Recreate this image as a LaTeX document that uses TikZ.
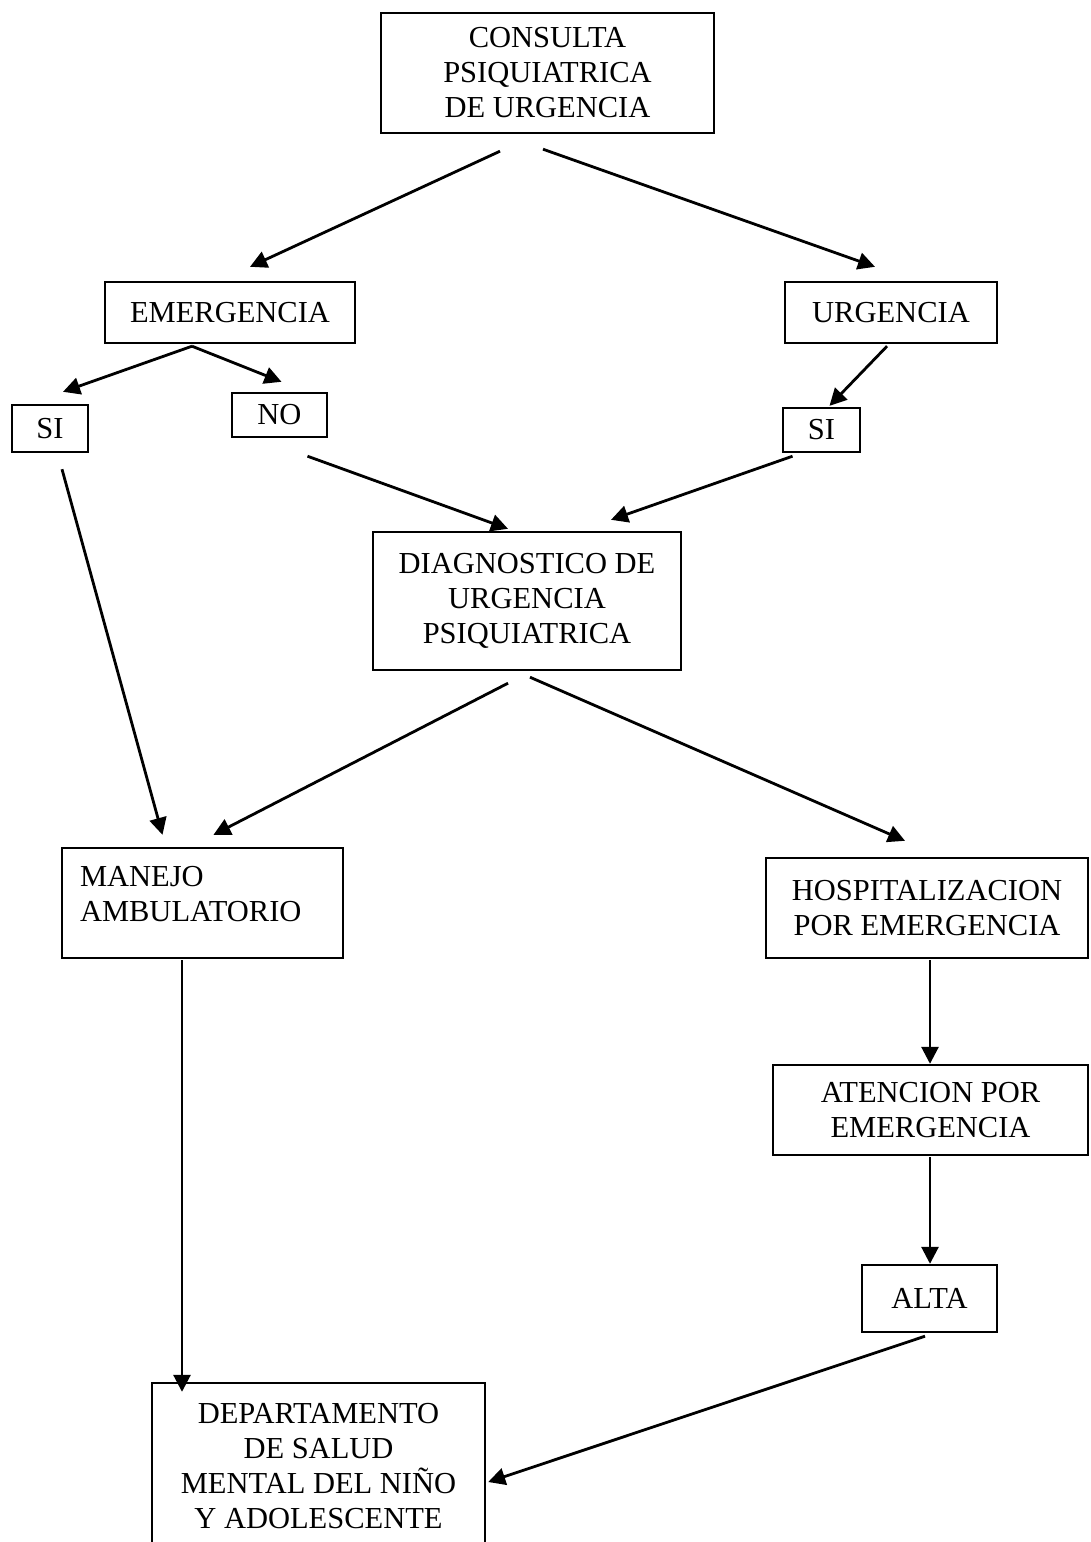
\documentclass[tikz,border=0pt]{standalone}
\usepackage{fontspec}
\setmainfont{Liberation Serif}
\usetikzlibrary{arrows.meta}
\begin{document}
\begin{tikzpicture}[x=1pt,y=-1pt,
  box/.style={draw,line width=2.4pt,inner sep=0pt,align=center,
    font=\fontsize{30.5}{35}\selectfont},
  arr/.style={line width=2.8pt,-{Triangle[length=17pt,width=17pt]}}]
\useasboundingbox (0,0) rectangle (1091,1542);

% boxes
\node[box,minimum width=333pt,minimum height=120pt] (cons) at (547.5,73)
  {CONSULTA\\PSIQUIATRICA\\DE URGENCIA};
\node[box,minimum width=250pt,minimum height=61pt] (emer) at (230,312.5) {EMERGENCIA};
\node[box,minimum width=212pt,minimum height=61pt] (urg) at (891,312.5) {URGENCIA};
\node[box,minimum width=76pt,minimum height=47pt] (siL) at (50,428.5) {SI};
\node[box,minimum width=95pt,minimum height=44pt] (no) at (279.5,415) {NO};
\node[box,minimum width=77pt,minimum height=44pt] (siR) at (821.5,430) {SI};
\node[box,minimum width=308pt,minimum height=138pt] (diag) at (527,601)
  {DIAGNOSTICO DE\\URGENCIA\\PSIQUIATRICA};
\node[box,align=left,text width=245pt,inner xsep=18pt,minimum height=110pt] (man) at (202.5,903)
  {MANEJO\\AMBULATORIO\\[-17pt]\mbox{}};
\node[box,minimum width=322pt,minimum height=100pt] (hosp) at (927,908)
  {HOSPITALIZACION\\POR EMERGENCIA};
\node[box,minimum width=315pt,minimum height=90pt] (aten) at (930.5,1110)
  {ATENCION POR\\EMERGENCIA};
\node[box,minimum width=135pt,minimum height=67pt] (alta) at (929.5,1298.5) {ALTA};
\node[box,minimum width=333pt,minimum height=167pt] (dep) at (318.5,1466.5)
  {DEPARTAMENTO\\DE SALUD\\MENTAL DEL NIÑO\\Y ADOLESCENTE};

% connectors
\draw[arr] ([xshift=-47.5pt,yshift=-17pt]cons.south) -- ([xshift=20pt,yshift=14pt]emer.north);
\draw[arr] ([xshift=-4.5pt,yshift=-15pt]cons.south) -- ([xshift=-16pt,yshift=14pt]urg.north);
\draw[arr] ([xshift=-38pt,yshift=-2pt]emer.south) -- ([xshift=13pt,yshift=12pt]siL.north);
\draw[arr] ([xshift=-38pt,yshift=-2pt]emer.south) -- ([xshift=2pt,yshift=10pt]no.north);
\draw[arr] ([xshift=-4pt,yshift=-2pt]urg.south) -- ([xshift=8pt,yshift=1pt]siR.north);
\draw[arr] ([xshift=28pt,yshift=-18pt]no.south) -- ([xshift=-19pt,yshift=2pt]diag.north);
\draw[arr] ([xshift=-29pt,yshift=-3pt]siR.south) -- ([xshift=84pt,yshift=11pt]diag.north);
\draw[arr] ([xshift=12pt,yshift=-16pt]siL.south) -- ([xshift=-40pt,yshift=12pt]man.north);
\draw[arr] ([xshift=-19pt,yshift=-12pt]diag.south) -- ([xshift=11pt,yshift=12pt]man.north);
\draw[arr] ([xshift=3pt,yshift=-6pt]diag.south) -- ([xshift=-22pt,yshift=16pt]hosp.north);
\draw[arr] ([xshift=3pt,yshift=-1pt]hosp.south) -- ([xshift=-0.5pt]aten.north);
\draw[arr] ([xshift=-0.5pt,yshift=-1pt]aten.south) -- ([xshift=0.5pt]alta.north);
\draw[arr] ([xshift=-4.5pt,yshift=-3pt]alta.south) -- ([xshift=2pt,yshift=-15.5pt]dep.east);
\draw[arr] ([xshift=-20.5pt,yshift=-1pt]man.south) -- ([xshift=-136.5pt,yshift=-10pt]dep.north);
\end{tikzpicture}
\end{document}
